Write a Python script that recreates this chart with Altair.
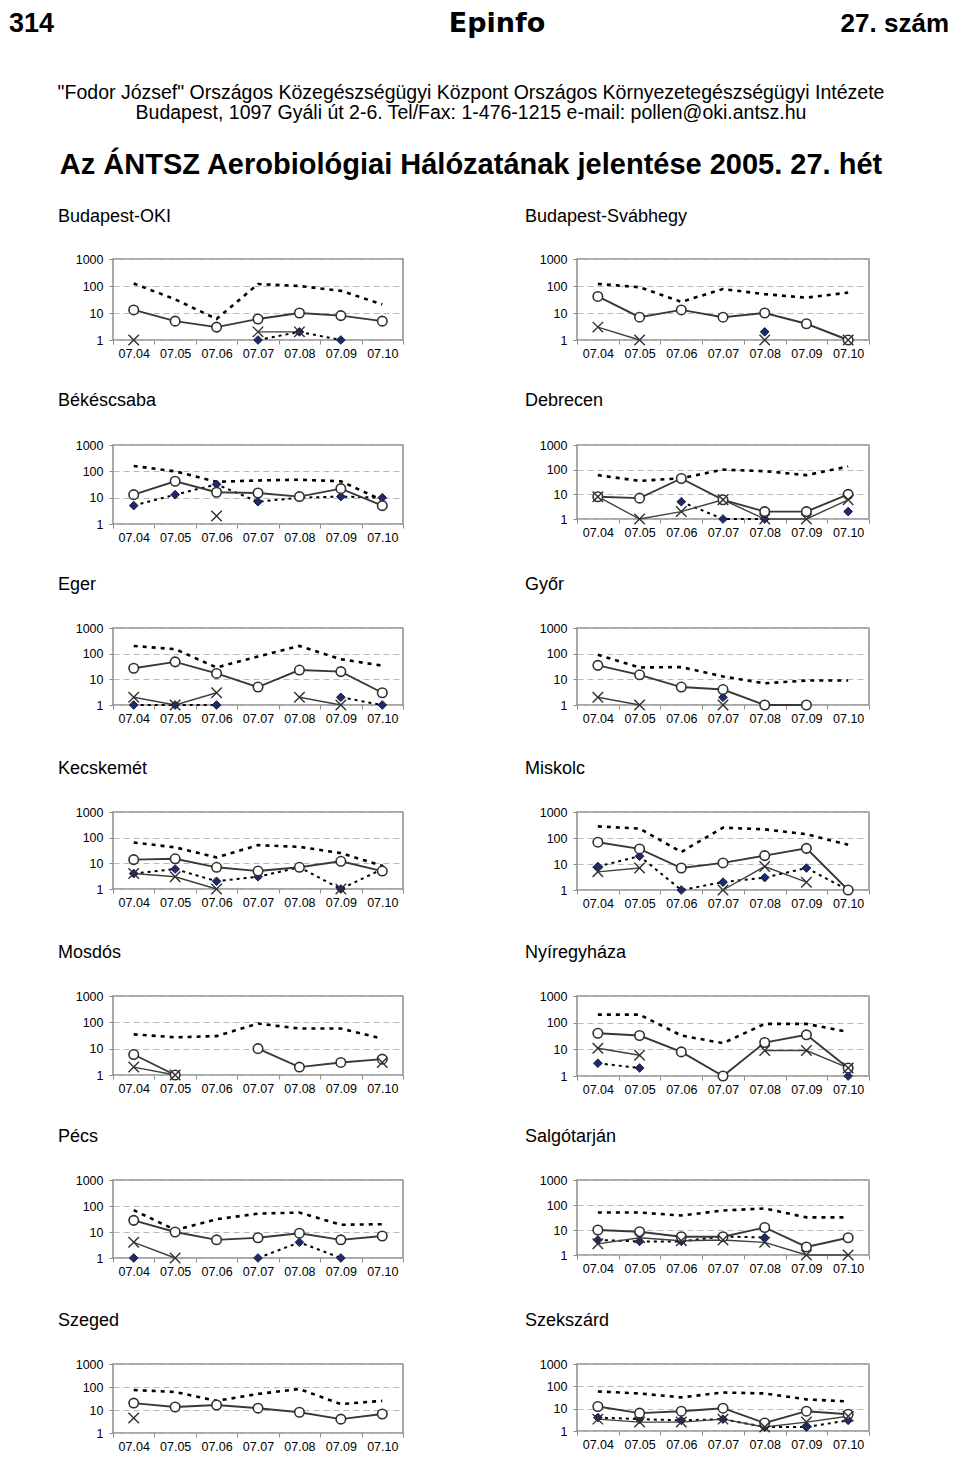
import altair as alt
import pandas as pd

DATES = ["07.04", "07.05", "07.06", "07.07", "07.08", "07.09", "07.10"]
N = None

# ---- station series (total = thick dotted, circle, cross, diamond) ----
OKI_TOTAL = [124, 32, 6, 118, 100, 66, 21]
OKI_CIRCLE = [13, 5, 3, 6, 10, 8, 5]
OKI_CROSS = [1, N, N, 2, 2, N, N]
OKI_DIAMOND = [N, N, N, 1, 2, 1, N]

SVAB_TOTAL = [120, 90, 26, 77, 50, 37, 57]
SVAB_CIRCLE = [41, 7, 13, 7, 10, 4, 1]
SVAB_CROSS = [3, 1, N, N, 1, N, 1]
SVAB_DIAMOND = [N, N, N, N, 2, N, N]

BEKES_TOTAL = [160, 100, 40, 45, 48, 42, 8]
BEKES_CIRCLE = [13, 42, 16, 15, 11, 22, 5]
BEKES_CROSS = [N, N, 2, N, N, N, N]
BEKES_DIAMOND = [5, 13, 32, 7, 10, 11, 10]

DEBR_TOTAL = [60, 35, 45, 100, 87, 60, 135]
DEBR_CIRCLE = [8, 7, 44, 6, 2, 2, 10]
DEBR_CROSS = [8, 1, 2, 6, 1, 1, 6]
DEBR_DIAMOND = [N, N, 5, 1, 1, N, 2]

EGER_TOTAL = [200, 150, 29, 78, 200, 61, 34]
EGER_CIRCLE = [27, 48, 17, 5, 23, 20, 3]
EGER_CROSS = [2, 1, 3, N, 2, 1, N]
EGER_DIAMOND = [1, 1, 1, N, N, 2, 1]

GYOR_TOTAL = [90, 29, 30, 13, 7, 9, 9]
GYOR_CIRCLE = [35, 15, 5, 4, 1, 1, N]
GYOR_CROSS = [2, 1, N, 1, N, N, N]
GYOR_DIAMOND = [N, N, N, 2, N, N, N]

KECS_TOTAL = [65, 42, 17, 51, 44, 25, 8]
KECS_CIRCLE = [14, 15, 7, 5, 7, 12, 5]
KECS_CROSS = [4, 3, 1, N, N, 1, N]
KECS_DIAMOND = [4, 6, 2, 3, 7, 1, 6]

MISK_TOTAL = [280, 230, 29, 250, 215, 140, 55]
MISK_CIRCLE = [69, 38, 7, 11, 21, 40, 1]
MISK_CROSS = [5, 7, N, 1, 8, 2, N]
MISK_DIAMOND = [8, 20, 1, 2, 3, 7, 1]

MOSD_TOTAL = [35, 27, 30, 90, 58, 58, 24]
MOSD_CIRCLE = [6, 1, N, 10, 2, 3, 4]
MOSD_CROSS = [2, 1, N, N, N, N, 3]
MOSD_DIAMOND = [N, N, N, N, N, N, N]

NYIR_TOTAL = [200, 200, 33, 17, 90, 90, 45]
NYIR_CIRCLE = [40, 33, 8, 1, 18, 35, 2]
NYIR_CROSS = [11, 6, N, N, 9, 9, 2]
NYIR_DIAMOND = [3, 2, N, N, N, N, 1]

PECS_TOTAL = [69, 12, 31, 51, 56, 19, 20]
PECS_CIRCLE = [28, 10, 5, 6, 9, 5, 7]
PECS_CROSS = [4, 1, N, N, N, N, N]
PECS_DIAMOND = [1, N, N, 1, 4, 1, N]

SALG_TOTAL = [50, 50, 38, 60, 73, 32, 32]
SALG_CIRCLE = [10, 8.5, 5.4, 5.4, 12.6, 2.1, 4.9]
SALG_CROSS = [2.8, 4.9, 3.7, 4, 3.2, 1, 1]
SALG_DIAMOND = [4, 3.5, 3.5, 5.5, 5, N, N]

SZEG_TOTAL = [74, 61, 25, 50, 82, 18, 25]
SZEG_CIRCLE = [20, 13.5, 16.5, 12, 8, 4, 6.7]
SZEG_CROSS = [4.5, N, N, N, N, N, N]
SZEG_DIAMOND = [N, N, N, N, N, N, N]

SZEK_TOTAL = [59, 48, 32, 53, 48, 26, 21]
SZEK_CIRCLE = [12.5, 6.3, 7.7, 10.5, 2.3, 7.7, 5.6]
SZEK_CROSS = [3.4, 2.5, 2.5, 3.4, 1.5, 2.5, 4.6]
SZEK_DIAMOND = [4, 3.4, 3, 3.4, 1.5, 1.5, 3]

NAMES_LEFT = ["Budapest-OKI", "Békéscsaba", "Eger", "Kecskemét", "Mosdós", "Pécs", "Szeged"]
NAMES_RIGHT = ["Budapest-Svábhegy", "Debrecen", "Győr", "Miskolc", "Nyíregyháza", "Salgótarján", "Szekszárd"]

LEFT = [
    (OKI_TOTAL, OKI_CIRCLE, OKI_CROSS, OKI_DIAMOND),
    (BEKES_TOTAL, BEKES_CIRCLE, BEKES_CROSS, BEKES_DIAMOND),
    (EGER_TOTAL, EGER_CIRCLE, EGER_CROSS, EGER_DIAMOND),
    (KECS_TOTAL, KECS_CIRCLE, KECS_CROSS, KECS_DIAMOND),
    (MOSD_TOTAL, MOSD_CIRCLE, MOSD_CROSS, MOSD_DIAMOND),
    (PECS_TOTAL, PECS_CIRCLE, PECS_CROSS, PECS_DIAMOND),
    (SZEG_TOTAL, SZEG_CIRCLE, SZEG_CROSS, SZEG_DIAMOND),
]
RIGHT = [
    (SVAB_TOTAL, SVAB_CIRCLE, SVAB_CROSS, SVAB_DIAMOND),
    (DEBR_TOTAL, DEBR_CIRCLE, DEBR_CROSS, DEBR_DIAMOND),
    (GYOR_TOTAL, GYOR_CIRCLE, GYOR_CROSS, GYOR_DIAMOND),
    (MISK_TOTAL, MISK_CIRCLE, MISK_CROSS, MISK_DIAMOND),
    (NYIR_TOTAL, NYIR_CIRCLE, NYIR_CROSS, NYIR_DIAMOND),
    (SALG_TOTAL, SALG_CIRCLE, SALG_CROSS, SALG_DIAMOND),
    (SZEK_TOTAL, SZEK_CIRCLE, SZEK_CROSS, SZEK_DIAMOND),
]

# layout per row: title-to-plot gap, left plot height, right plot height
ROW_GAP = [43, 45, 44, 44, 44, 44, 44]
H_LEFT = [81, 79, 77, 77, 79, 78, 69]
H_RIGHT = [81, 74, 77, 78, 80, 75, 67]

FONT = "Liberation Sans, Arial, sans-serif"
TITLE_SHIFT = 34
K = 114
ROW_SPACING = 26
YEXT = 104
HEADER_W = 836
HEADER_H = 90
CROSS_PATH = "M -1 -1 L 1 1 M -1 1 L 1 -1"


def panel(name, series, gap, height, width, title_dx):
    offset = gap - TITLE_SHIFT
    ext = K - offset - height
    recs = []
    for key, vals in zip(("total", "circle", "cross", "diamond"), series):
        seg = 0
        for d, v in zip(DATES, vals):
            if v is None:
                seg += 1
                continue
            recs.append({"date": d, "value": v, "series": key, "seg": f"{key}{seg}"})
    df = pd.DataFrame(recs, columns=["date", "value", "series", "seg"])

    x = alt.X(
        "date:N",
        title=None,
        bandPosition=0.5,
        scale=alt.Scale(type="band", domain=DATES, paddingInner=0, paddingOuter=0),
        axis=alt.Axis(
            labelAngle=0, labelFont=FONT, labelFontSize=12.5, labelColor="black",
            tickSize=4, tickColor="#8c8c8c", tickBand="extent", domain=False,
            grid=False, labelPadding=3, labelOverlap=False,
            minExtent=ext, maxExtent=ext,
        ),
    )
    y = alt.Y(
        "value:Q",
        title=None,
        scale=alt.Scale(type="log", domain=[1, 1000]),
        axis=alt.Axis(
            values=[1, 10, 100, 1000], format="d", labelFont=FONT, labelFontSize=12.5,
            labelColor="black", tickSize=4, tickColor="#8c8c8c", domain=False,
            grid=True, gridDash=[6, 4], gridColor="#b8b8b8", gridWidth=1,
            labelPadding=6, minExtent=YEXT, maxExtent=YEXT,
        ),
    )
    base = alt.Chart(df).encode(x=x, y=y)

    def sel(k):
        return base.transform_filter(alt.datum.series == k)

    layers = [
        sel("total").mark_line(color="black", strokeWidth=2.6, strokeDash=[4, 5], strokeCap="butt").encode(detail="seg:N"),
        sel("diamond").mark_line(color="black", strokeWidth=2, strokeDash=[3, 4], strokeCap="butt").encode(detail="seg:N"),
        sel("cross").mark_line(color="#404040", strokeWidth=1.4).encode(detail="seg:N"),
        sel("circle").mark_line(color="#383838", strokeWidth=1.9).encode(detail="seg:N"),
        sel("diamond").mark_point(shape="diamond", filled=True, fill="#1f2a6b", stroke="#141a45", strokeWidth=1, size=75, opacity=1),
        sel("circle").mark_point(shape="circle", filled=True, fill="white", stroke="#303030", strokeWidth=1.6, size=90, opacity=1),
        sel("cross").mark_point(shape=CROSS_PATH, filled=False, stroke="#303030", strokeWidth=1.4, size=110, opacity=1),
    ]
    return alt.layer(*layers).properties(
        width=width,
        height=height,
        title=alt.TitleParams(
            text=name, anchor="start", frame="group", dx=title_dx, offset=offset,
            font=FONT, fontSize=18, fontWeight="normal", color="black", baseline="bottom",
        ),
    )


def text_item(txt, x, y, size, bold=False, align="center", font=FONT):
    return alt.Chart(pd.DataFrame({"t": [txt]})).mark_text(
        font=font, fontSize=size, fontWeight="bold" if bold else "normal",
        align=align, baseline="middle", color="black",
    ).encode(text="t:N", x=alt.value(x), y=alt.value(y))


HEADER_TEXTS = {
    "page": "314",
    "logo": "Epinfo",
    "issue": "27. szám",
    "inst1": "\"Fodor József\" Országos Közegészségügyi Központ Országos Környezetegészségügyi Intézete",
    "inst2": "Budapest, 1097 Gyáli út 2-6. Tel/Fax: 1-476-1215 e-mail: pollen@oki.antsz.hu",
    "title": "Az ÁNTSZ Aerobiológiai Hálózatának jelentése 2005. 27. hét",
}

# header coordinates are relative to the panels' plot origin
header = alt.layer(
    text_item(HEADER_TEXTS["page"], -104, -66.5, 27, bold=True, align="left"),
    text_item(HEADER_TEXTS["logo"], 384, -66.5, 27, bold=True, font="DejaVu Sans, sans-serif"),
    text_item(HEADER_TEXTS["issue"], 836, -66.5, 26, bold=True, align="right"),
    text_item(HEADER_TEXTS["inst1"], 358, 3, 19.5),
    text_item(HEADER_TEXTS["inst2"], 358, 23, 19.5),
    text_item(HEADER_TEXTS["title"], 358, 75, 29, bold=True),
).properties(width=HEADER_W, height=HEADER_H, view=alt.ViewBackground(stroke="transparent"))

rows = []
for i in range(7):
    left = panel(NAMES_LEFT[i], LEFT[i], ROW_GAP[i], H_LEFT[i], 290, -55)
    right = panel(NAMES_RIGHT[i], RIGHT[i], ROW_GAP[i], H_RIGHT[i], 292, -52)
    rows.append(alt.concat(left, right, columns=2, spacing=67, align="none"))

chart = alt.concat(header, *rows, columns=1, spacing=ROW_SPACING, align="none").properties(
    padding=0, background="white"
).configure_view(stroke="#8c8c8c", strokeWidth=1.5)

chart.save("out.html", embed_options={"renderer": "svg", "actions": False})
